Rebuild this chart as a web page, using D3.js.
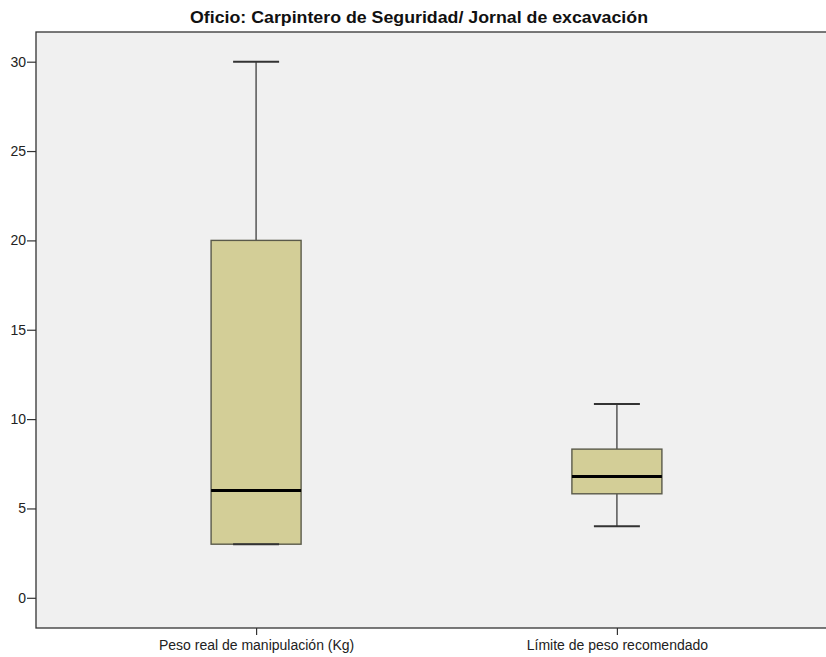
<!DOCTYPE html>
<html>
<head>
<meta charset="utf-8">
<script src="https://cdn.jsdelivr.net/npm/d3@7"></script>
<style>
  html, body { margin: 0; padding: 0; background: #ffffff; }
  svg { display: block; }
</style>
</head>
<body>
<svg id="chart" width="826" height="657"></svg>
<script>
// Categories and five-number summaries (kg)
const categories = ["Peso real de manipulación (Kg)", "Límite de peso recomendado"];
const whiskerLow  = [3, 4];
const quartile1   = [3, 5.82];
const medians     = [6, 6.79];
const quartile3   = [20, 8.32];
const whiskerHigh = [30, 10.84];
const yTicks = [0, 5, 10, 15, 20, 25, 30];
const titleText = "Oficio: Carpintero de Seguridad/ Jornal de excavación";

const boxes = categories.map((c, i) => ({
  cat: c, lo: whiskerLow[i], q1: quartile1[i], med: medians[i], q3: quartile3[i], hi: whiskerHigh[i]
}));

const svg = d3.select("#chart");
const frame = { left: 36, top: 32, right: 840, bottom: 628 };
const labelFont = "'Liberation Sans', Arial, sans-serif";

const y = d3.scaleLinear().domain([0, 30]).range([597.8, 61.7]);
const x = d3.scalePoint().domain(categories).range([frame.left, 837]).padding(0.61);
const boxW = 90;
const capW = 46;

// Plot area
svg.append("rect")
  .attr("x", frame.left).attr("y", frame.top)
  .attr("width", frame.right - frame.left).attr("height", frame.bottom - frame.top)
  .attr("fill", "#f0f0f0").attr("stroke", "#333").attr("stroke-width", 1.3);

// Title: condensed bold heading
svg.append("text")
  .attr("x", 190).attr("y", 22.7)
  .attr("font-family", "'Liberation Sans Narrow', 'Arial Narrow', 'Liberation Sans', Arial, sans-serif")
  .attr("font-weight", "bold")
  .attr("font-size", 16)
  .attr("fill", "#111")
  .attr("textLength", 458)
  .attr("lengthAdjust", "spacingAndGlyphs")
  .text(titleText);

// Y axis
const yAxis = d3.axisLeft(y).tickValues(yTicks).tickSize(9).tickPadding(1);
const gy = svg.append("g").attr("transform", `translate(${frame.left},0)`).call(yAxis);
gy.select(".domain").remove();
gy.selectAll(".tick line").attr("stroke", "#333").attr("stroke-width", 1.2);
gy.selectAll(".tick text")
  .attr("font-family", labelFont)
  .attr("font-size", 14).attr("fill", "#222");

// X axis
const xAxis = d3.axisBottom(x).tickSize(7).tickPadding(5);
const gx = svg.append("g").attr("transform", `translate(0,${frame.bottom})`).call(xAxis);
gx.select(".domain").remove();
gx.selectAll(".tick line").attr("stroke", "#333").attr("stroke-width", 1.2);
gx.selectAll(".tick text")
  .attr("font-family", labelFont)
  .attr("font-size", 14).attr("fill", "#222");

// Boxes
const g = svg.append("g").selectAll("g").data(boxes).join("g");
const stroke = "#555";

// whisker stems
g.append("line")
  .attr("x1", d => x(d.cat)).attr("x2", d => x(d.cat))
  .attr("y1", d => y(d.hi)).attr("y2", d => y(d.q3))
  .attr("stroke", stroke).attr("stroke-width", 1.5);
g.append("line")
  .attr("x1", d => x(d.cat)).attr("x2", d => x(d.cat))
  .attr("y1", d => y(d.lo)).attr("y2", d => y(d.q1))
  .attr("stroke", stroke).attr("stroke-width", 1.5);

// box body
g.append("rect")
  .attr("x", d => x(d.cat) - boxW / 2)
  .attr("y", d => y(d.q3))
  .attr("width", boxW)
  .attr("height", d => y(d.q1) - y(d.q3))
  .attr("fill", "#d3ce97").attr("stroke", "#5a5a4a").attr("stroke-width", 1.4);

// caps
g.append("line")
  .attr("x1", d => x(d.cat) - capW / 2).attr("x2", d => x(d.cat) + capW / 2)
  .attr("y1", d => y(d.hi)).attr("y2", d => y(d.hi))
  .attr("stroke", "#333").attr("stroke-width", 2);
g.append("line")
  .attr("x1", d => x(d.cat) - capW / 2).attr("x2", d => x(d.cat) + capW / 2)
  .attr("y1", d => y(d.lo)).attr("y2", d => y(d.lo))
  .attr("stroke", "#333").attr("stroke-width", 2);

// median
g.append("line")
  .attr("x1", d => x(d.cat) - boxW / 2).attr("x2", d => x(d.cat) + boxW / 2)
  .attr("y1", d => y(d.med)).attr("y2", d => y(d.med))
  .attr("stroke", "#000").attr("stroke-width", 3);
</script>
</body>
</html>
